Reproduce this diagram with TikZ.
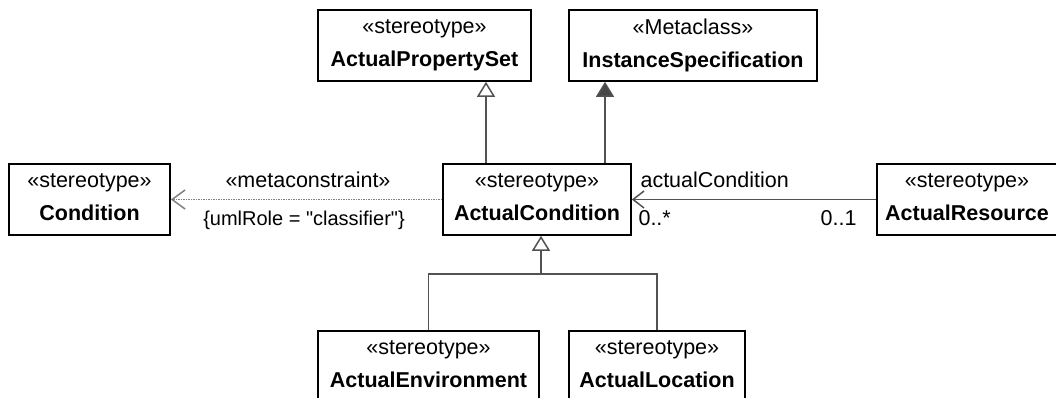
\documentclass[tikz,border=0pt]{standalone}
\usepackage{fontspec}
\newfontfamily\umlfont{Liberation Sans}
\usetikzlibrary{arrows.meta,positioning}

\newcommand{\ustrut}{\rule[-4.5pt]{0pt}{17pt}}
\newcommand{\uml}[2]{\ustrut«#1»\\\ustrut\textbf{#2}}

\begin{document}
\begin{tikzpicture}[x=1pt,y=-1pt,font=\umlfont\fontsize{21.5}{33}\selectfont,
                    class/.style={draw=black,line width=1.6pt,fill=white,inner sep=0pt,
                                  minimum height=71pt,align=center},
                    conn/.style={draw=black!68,line width=1.5pt},
                    gen/.style={conn,-{Triangle[open,length=15pt,width=18pt,fill=white]}},
                    ext/.style={conn,-{Triangle[length=15pt,width=18pt,fill=black!72]}},
                    nav/.style={conn,-{Straight Barb[length=11pt,width=17pt]}},
                    dep/.style={draw=black!50,line width=1.5pt,densely dotted,
                                -{Straight Barb[length=13pt,width=19pt,line width=1.5pt,sep=0pt]}},
                    lbl/.style={inner sep=0pt,anchor=base}]

  \useasboundingbox (0,0) rectangle (1056,398);

  \node[class,minimum width=213pt] (aps)   at (424.5,45.5) {\uml{stereotype}{ActualPropertySet}};
  \node[class,minimum width=248pt] (ispec) at (693,45.5)   {\uml{Metaclass}{InstanceSpecification}};
  \node[class,minimum width=161pt] (cond)  at (89.5,199.5) {\uml{stereotype}{Condition}};
  \node[class,minimum width=188pt] (acond) at (537,199.5)  {\uml{stereotype}{ActualCondition}};
  \node[class,minimum width=180pt] (ares)  at (967,199.5)  {\uml{stereotype}{ActualResource}};
  \node[class,minimum width=221pt] (aenv)  at (428.5,366.5) {\uml{stereotype}{ActualEnvironment}};
  \node[class,minimum width=176pt] (aloc)  at (657,366.5)  {\uml{stereotype}{ActualLocation}};

  \coordinate (bar) at ([yshift=56pt]aenv.north);
  \coordinate (tip) at ([xshift=4pt]acond.south);

  \path ([xshift=-51pt]acond.north) edge [gen] ([xshift=-51pt]acond.north |- aps.south)
        ([xshift=68pt]acond.north)  edge [ext] ([xshift=68pt]acond.north |- ispec.south)
        (acond.west) edge [dep]
              node[lbl,pos=0.5,xshift=1.5pt,yshift=12.5pt] {«metaconstraint»}
              node[lbl,pos=0.5,xshift=-2.5pt,yshift=-25.5pt,font=\umlfont\fontsize{20}{24}\selectfont]
                  {\{umlRole = "classifier"\}} (cond.east)
        (ares.west) edge [nav]
              node[lbl,at end,anchor=base west,xshift=8pt,yshift=12.5pt] {actualCondition}
              node[lbl,at end,anchor=base west,xshift=6pt,yshift=-25.5pt] {0..*}
              node[lbl,at start,anchor=base east,xshift=-19pt,yshift=-25.5pt] {0..1} (acond.east);

  \draw[conn] (aenv.north) -- (bar) -| (aloc.north);
  \draw[gen] (bar -| tip) -- (tip);
\end{tikzpicture}
\end{document}
